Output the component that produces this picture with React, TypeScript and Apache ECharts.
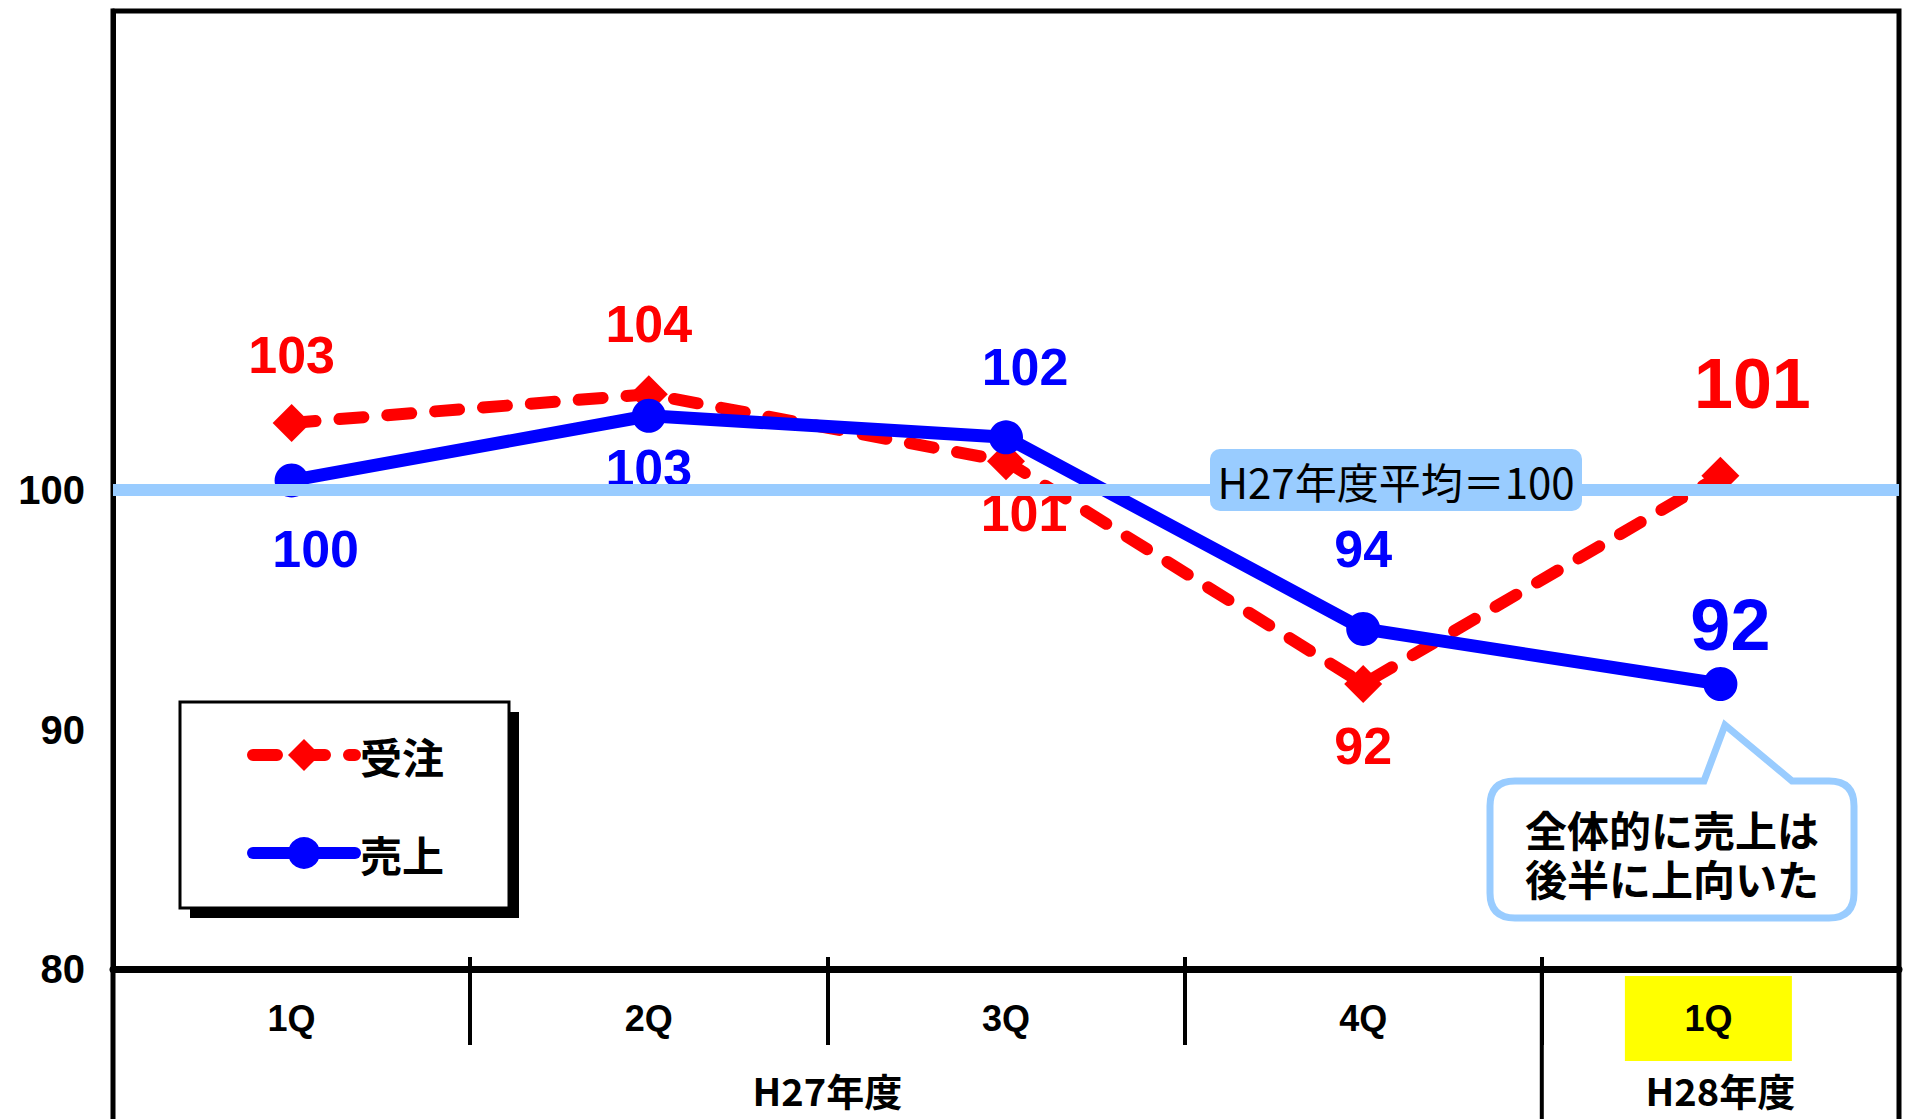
import React, { useEffect, useRef } from "react";
import * as echarts from "echarts";

// ---- data ----
const CATEGORIES = ["1Q", "2Q", "3Q", "4Q", "1Q"];
const FISCAL_YEARS = ["H27年度", "H28年度"];
const FISCAL_SPANS = [
  [0, 4],
  [4, 5],
];
const ORDERS = [102.8, 104.0, 101.2, 91.9, 100.6]; // 受注
const SALES = [100.4, 103.1, 102.2, 94.2, 91.9]; // 売上
const Y_TICKS = [80, 90, 100];
const AVERAGE = 100;
const AVERAGE_TEXT = "H27年度平均＝100";
const NOTE_LINES = ["全体的に売上は", "後半に上向いた"];

// ---- label styling (positions / sizes, not data) ----
const ORDER_LABEL_OFFSETS = [
  [0, -68],
  [0, -70],
  [18, 52],
  [0, 62],
  [32, -92],
];
const SALES_LABEL_OFFSETS = [
  [24, 69],
  [0, 52],
  [19, -70],
  [0, -80],
  [10, -59],
];
const ORDER_LABEL_SIZES = [52, 52, 52, 52, 70];
const SALES_LABEL_SIZES = [52, 52, 52, 52, 72];

const W = 1906;
const H = 1119;
const G_LEFT = 113;
const G_RIGHT = 7;
const G_TOP = 11;
const G_BOTTOM = 150;
const AXIS_Y = H - G_BOTTOM;
const PLOT_W = W - G_LEFT - G_RIGHT;

const BALLOON_D =
  "M 1515 781 L 1704 781 L 1725 725 L 1792 781 L 1829 781 Q 1854 781 1854 806 L 1854 893 Q 1854 918 1829 918 L 1515 918 Q 1490 918 1490 893 L 1490 806 Q 1490 781 1515 781 Z";

let registered = false;
function ensureShapes() {
  if (registered) return;
  registered = true;
  echarts.graphic.registerShape(
    "balloon",
    echarts.graphic.extendPath(BALLOON_D, {}) as any
  );
}

const NUM_FONT = "'Liberation Sans', Arial, sans-serif";
const JP_FONT = "'Noto Sans CJK JP', 'Noto Sans', sans-serif";
const NARROW_FONT = "'Liberation Sans Narrow', 'Liberation Sans', Arial, sans-serif";

export default function App() {
  const ref = useRef<HTMLDivElement>(null);

  useEffect(() => {
    if (!ref.current) return;
    ensureShapes();
    const chart = echarts.init(ref.current, null, { renderer: "svg" });

    const catW = PLOT_W / CATEGORIES.length;
    const lastSepX = G_LEFT + catW * FISCAL_SPANS[1][0];
    const fyCenters = FISCAL_SPANS.map((s) => (s[0] + s[1]) / 2);

    const noteTexts = NOTE_LINES.map((t, i) => ({
      type: "text",
      z: 6,
      x: 1672,
      y: 828 + i * 49,
      style: {
        text: t,
        fontSize: 42,
        fontWeight: "bold",
        fontFamily: JP_FONT,
        fill: "#000",
        align: "center",
        verticalAlign: "middle",
        textAlign: "center",
        textVerticalAlign: "middle",
      },
    }));

    const option: any = {
      animation: false,
      backgroundColor: "#ffffff",
      grid: {
        left: G_LEFT,
        right: G_RIGHT,
        top: G_TOP,
        bottom: G_BOTTOM,
        show: true,
        borderColor: "#000000",
        borderWidth: 5,
        backgroundColor: "transparent",
      },
      legend: {
        data: ["受注", "売上"],
        orient: "vertical",
        left: 247,
        top: 734,
        padding: 0,
        itemGap: 56,
        itemWidth: 102,
        itemHeight: 40,
        selectedMode: false,
        lineStyle: { width: 12, cap: "round" },
        textStyle: {
          color: "#000",
          fontSize: 42,
          lineHeight: 42,
          fontWeight: "bold",
          fontFamily: JP_FONT,
        },
        z: 6,
      },
      xAxis: [
        {
          type: "category",
          data: CATEGORIES,
          position: "bottom",
          axisLine: { onZero: false, lineStyle: { color: "#000", width: 7 } },
          axisTick: {
            show: true,
            interval: 0,
            length: 76,
            lineStyle: { color: "#000", width: 4 },
          },
          splitLine: { show: false },
          axisLabel: {
            interval: 0,
            margin: 7,
            formatter: (v: string, i: number) =>
              i === CATEGORIES.length - 1 ? `{hl|${v}}{sp| }` : `{n|${v}}`,
            rich: {
              n: {
                fontSize: 36,
                lineHeight: 85,
                fontWeight: "bold",
                fontFamily: NARROW_FONT,
                color: "#000",
              },
              hl: {
                fontSize: 36,
                lineHeight: 85,
                height: 85,
                width: 167,
                align: "center",
                fontWeight: "bold",
                fontFamily: NARROW_FONT,
                color: "#000",
                backgroundColor: "#ffff00",
              },
              sp: { width: 24, fontSize: 10, lineHeight: 85 },
            },
          },
        },
        {
          type: "category",
          data: CATEGORIES,
          position: "bottom",
          axisLine: { show: false, onZero: false },
          axisTick: {
            show: true,
            inside: true,
            interval: 0,
            length: 12,
            lineStyle: { color: "#000", width: 4 },
          },
          axisLabel: { show: false },
          splitLine: { show: false },
        },
        {
          type: "value",
          min: 0,
          max: CATEGORIES.length,
          interval: 0.5,
          position: "bottom",
          axisLine: { show: false, onZero: false },
          axisTick: { show: false },
          splitLine: { show: false },
          axisLabel: {
            margin: 100,
            fontSize: 38,
            lineHeight: 40,
            fontWeight: "bold",
            fontFamily: JP_FONT,
            color: "#000",
            formatter: (v: number) => {
              const k = fyCenters.findIndex((c) => Math.abs(c - v) < 1e-6);
              return k >= 0 ? FISCAL_YEARS[k] : "";
            },
          },
        },
      ],
      yAxis: {
        type: "value",
        min: 80,
        max: 120,
        interval: 10,
        axisLine: { show: true, lineStyle: { color: "#000", width: 5 } },
        axisTick: { show: false },
        splitLine: { show: false },
        axisLabel: {
          margin: 28,
          fontSize: 40,
          fontWeight: "bold",
          fontFamily: NUM_FONT,
          color: "#000",
          formatter: (v: number) => (Y_TICKS.includes(v) ? String(v) : ""),
        },
      },
      series: [
        {
          name: "平均",
          type: "line",
          data: [],
          silent: true,
          z: 1,
          markLine: {
            silent: true,
            symbol: ["none", "none"],
            label: { show: false },
            lineStyle: { color: "#99ccff", width: 12, type: "solid" },
            data: [{ yAxis: AVERAGE }],
          },
        },
        {
          name: "受注",
          type: "line",
          z: 2,
          data: ORDERS.map((v, i) => ({
            value: v,
            label: {
              offset: ORDER_LABEL_OFFSETS[i],
              fontSize: ORDER_LABEL_SIZES[i],
            },
          })),
          symbol: "diamond",
          symbolSize: 38,
          itemStyle: { color: "#ff0000" },
          lineStyle: {
            color: "#ff0000",
            width: 12,
            type: [24, 24],
            cap: "round",
          },
          label: {
            show: true,
            position: "inside",
            color: "#ff0000",
            fontWeight: "bold",
            fontFamily: NUM_FONT,
            formatter: (p: any) => String(Math.round(p.value)),
          },
          emphasis: { disabled: true },
        },
        {
          name: "売上",
          type: "line",
          z: 3,
          data: SALES.map((v, i) => ({
            value: v,
            label: {
              offset: SALES_LABEL_OFFSETS[i],
              fontSize: SALES_LABEL_SIZES[i],
            },
          })),
          symbol: "circle",
          symbolSize: 34,
          itemStyle: { color: "#0000ff" },
          lineStyle: { color: "#0000ff", width: 13, cap: "round" },
          label: {
            show: true,
            position: "inside",
            color: "#0000ff",
            fontWeight: "bold",
            fontFamily: NUM_FONT,
            formatter: (p: any) => String(Math.round(p.value)),
          },
          emphasis: { disabled: true },
        },
      ],
      graphic: [
        // frame extensions below the plot
        {
          type: "line",
          z: 5,
          shape: { x1: G_LEFT, y1: AXIS_Y, x2: G_LEFT, y2: H },
          style: { stroke: "#000", lineWidth: 5 },
        },
        {
          type: "line",
          z: 5,
          shape: { x1: W - G_RIGHT, y1: AXIS_Y, x2: W - G_RIGHT, y2: H },
          style: { stroke: "#000", lineWidth: 5 },
        },
        {
          type: "line",
          z: 5,
          shape: { x1: lastSepX, y1: AXIS_Y, x2: lastSepX, y2: H },
          style: { stroke: "#000", lineWidth: 4 },
        },
        // legend frame with shadow
        {
          type: "rect",
          z: 4,
          shape: { x: 190, y: 712, width: 329, height: 206 },
          style: { fill: "#000" },
        },
        {
          type: "rect",
          z: 5,
          shape: { x: 180, y: 702, width: 329, height: 206 },
          style: { fill: "#fff", stroke: "#000", lineWidth: 3 },
        },
        // average label
        {
          type: "rect",
          z: 5,
          shape: { x: 1210, y: 449, width: 372, height: 62, r: 10 },
          style: { fill: "#99ccff" },
        },
        {
          type: "text",
          z: 6,
          x: 1396,
          y: 480,
          style: {
            text: AVERAGE_TEXT,
            fontSize: 42,
            fontFamily: JP_FONT,
            fill: "#000",
            align: "center",
            verticalAlign: "middle",
            textAlign: "center",
            textVerticalAlign: "middle",
          },
        },
        // callout balloon
        {
          type: "balloon",
          z: 5,
          x: 0,
          y: 0,
          scaleX: 1,
          scaleY: 1,
          style: { fill: "#fff", stroke: "#99ccff", lineWidth: 7 },
        },
        ...noteTexts,
      ],
    };

    chart.setOption(option);
    return () => chart.dispose();
  }, []);

  return (
    <div
      ref={ref}
      style={{
        position: "absolute",
        left: 0,
        top: 0,
        width: W,
        height: H,
        background: "#fff",
      }}
    />
  );
}
